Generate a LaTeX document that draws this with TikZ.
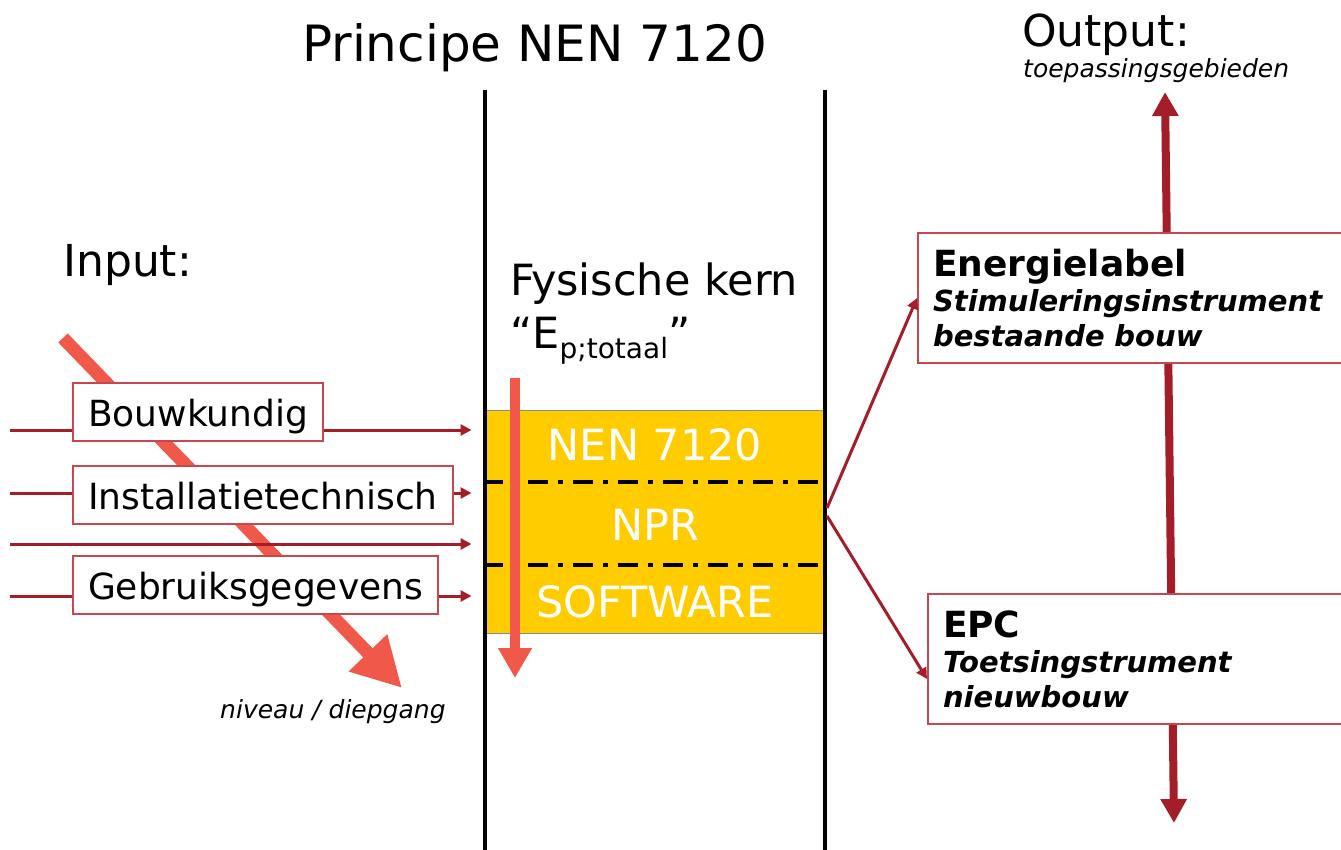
\documentclass[tikz,border=0pt]{standalone}
\usepackage{fontspec}
\setmainfont{DejaVu Sans}
\usetikzlibrary{arrows.meta}
\definecolor{kernyellow}{HTML}{FFCC00}
\definecolor{inred}{HTML}{A41E2A}
\definecolor{levelred}{HTML}{F0584A}
\definecolor{boxred}{HTML}{C8474F}
\begin{document}
\begin{tikzpicture}[x=1pt, y=-1pt,
    plain/.style={anchor=base west, inner sep=0pt},
    kernline/.style={line width=4pt},
    sepline/.style={line width=4pt, dash pattern=on 20pt off 10pt on 5pt off 10pt, dash phase=2pt},
    kernbox/.style={fill=kernyellow, draw=black!45, line width=1pt, minimum width=340pt, minimum height=223pt, inner sep=0pt},
    kerntext/.style={anchor=base, inner sep=0pt, text=white, font=\fontsize{43}{50}\selectfont},
    inbox/.style={draw=boxred, line width=2pt, fill=white, anchor=north west, inner xsep=15pt, inner ysep=4pt, text height=39pt, text depth=11pt, font=\fontsize{36}{40}\selectfont},
    outbox/.style={draw=boxred, line width=2pt, fill=white, anchor=north west, inner xsep=15pt, inner ysep=0pt, text width=399pt, align=left, minimum height=130pt, font=\fontsize{29}{35}\selectfont\bfseries\itshape},
    inarrow/.style={draw=inred, line width=3pt, -{Triangle[width=11pt,length=11pt]}},
    levelarrow/.style={draw=levelred, line width=10pt, -{Triangle[width=32pt,length=30pt]}},
    diagarrow/.style={draw=levelred, line width=13pt, -{Triangle[width=50pt,length=49pt]}},
    outarrow/.style={draw=inred, line width=8pt, {Triangle[width=25pt,length=24pt]}-{Triangle[width=25pt,length=24pt]}}
    ]
            \useasboundingbox (0,0) rectangle (1341,850);

            \node[plain, font=\fontsize{50}{60}\selectfont] (title) at (302,62) {Principe NEN 7120};
            \node[plain, font=\fontsize{44}{50}\selectfont] (input) at (63,277) {Input:};
            \node[plain, font=\fontsize{44}{50}\selectfont] (output) at (1022,47) {Output:};
            \node[plain, font=\fontsize{25}{30}\selectfont\itshape] (toep) at (1023,78) {toepassingsgebieden};
            \node[plain, font=\fontsize{25}{30}\selectfont\itshape] (niveau) at (220,718) {niveau / diepgang};
            \node[plain, font=\fontsize{43}{50}\selectfont] (fys) at (510,295) {Fysische kern};
            \node[plain, font=\fontsize{43}{50}\selectfont] (ep) at (510,348) {“E\raisebox{-10pt}{\fontsize{28}{30}\selectfont p;totaal}”};

            \node[kernbox] (kern) at (655,521.5) {};
            \draw[sepline] (485,482) -- (825,482);
            \draw[sepline] (485,565) -- (825,565);
            \draw[kernline] (485,90) -- (485,850);
            \draw[kernline] (825,90) -- (825,850);

            \node[kerntext] (nen) at (655,460) {NEN 7120};
            \node[kerntext] (npr) at (655,540) {NPR};
            \node[kerntext] (soft) at (655,617) {SOFTWARE};

            \coordinate (lv1) at (515,378);
            \coordinate (lv2) at (515,678);
            \draw[levelarrow] (lv1) -- (lv2);

            \coordinate (dg1) at (63,338);
            \coordinate (dg2) at (402,688);
            \draw[diagarrow] (dg1) -- (dg2);

            \coordinate (in1) at (10,430);
            \coordinate (in2) at (10,493);
            \coordinate (in3) at (10,544);
            \coordinate (in4) at (10,596);
            \draw[inarrow, shorten >=13pt] (in1) -- (in1 -| kern.west);
            \draw[inarrow, shorten >=13pt] (in2) -- (in2 -| kern.west);
            \draw[inarrow, shorten >=13pt] (in3) -- (in3 -| kern.west);
            \draw[inarrow, shorten >=13pt] (in4) -- (in4 -| kern.west);

            \node[inbox] (bouw) at (72,382) {Bouwkundig};
            \node[inbox] (inst) at (72,465) {Installatietechnisch};
            \node[inbox] (gebr) at (72,555) {Gebruiksgegevens};

            \coordinate (top) at (1165,92);
            \coordinate (bottom) at (1174,823);
            \draw[outarrow] (bottom) -- (top);

            \node[outbox] (label) at (917,232) {{\upshape\fontsize{36}{35}\selectfont Energielabel}\\Stimuleringsinstrument\\bestaande bouw};
            \node[outbox] (epc) at (927,593) {{\upshape\fontsize{36}{35}\selectfont EPC}\\Toetsingstrument\\nieuwbouw};

            \coordinate (k1) at (827,508);
            \coordinate (k2) at (827,516);
            \draw[inarrow] (k1) -- (label.west);
            \draw[inarrow] (k2) -- ([yshift=-20pt]epc.west);
        \end{tikzpicture}
\end{document}
